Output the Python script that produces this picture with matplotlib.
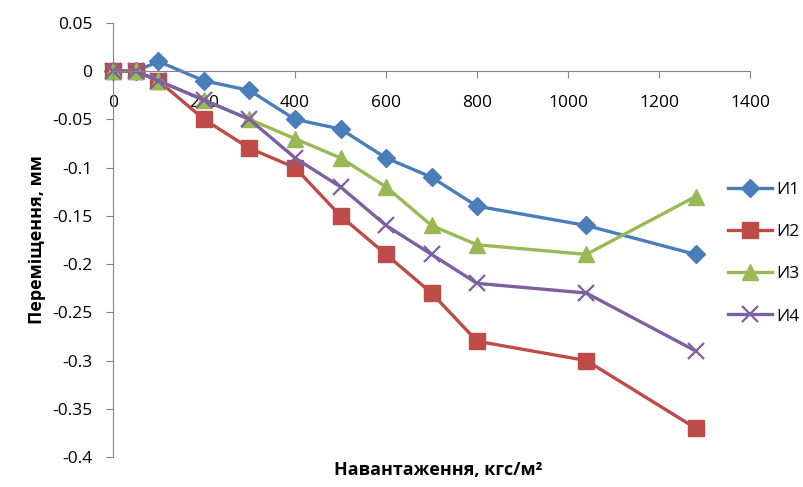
"""Displacement vs load for four specimens."""

import matplotlib
matplotlib.use("Agg")
import matplotlib.pyplot as plt

load = [0, 50, 100, 200, 300, 400, 500, 600, 700, 800, 1040, 1280]
i1 = [0, 0, 0.01, -0.01, -0.02, -0.05, -0.06, -0.09, -0.11, -0.14, -0.16, -0.19]
i2 = [0, 0, -0.01, -0.05, -0.08, -0.10, -0.15, -0.19, -0.23, -0.28, -0.30, -0.37]
i3 = [0, 0, -0.01, -0.03, -0.05, -0.07, -0.09, -0.12, -0.16, -0.18, -0.19, -0.13]
i4 = [0, 0, -0.01, -0.03, -0.05, -0.09, -0.12, -0.16, -0.19, -0.22, -0.23, -0.29]
names = ["И1", "И2", "И3", "И4"]

plt.rcParams["font.family"] = ["Open Sans", "DejaVu Sans"]

fig = plt.figure(figsize=(8.04, 4.87), dpi=100)
ax = fig.add_axes([0.1405, 0.0616, 0.7925, 0.8914])

styles = [
    dict(color="#4A7EBB", marker="D", markersize=9),
    dict(color="#BE4B48", marker="s", markersize=11),
    dict(color="#98B954", marker="^", markersize=12),
    dict(color="#7D60A0", marker="x", markersize=12, markeredgewidth=1.6),
]
for ys, name, st in zip([i1, i2, i3, i4], names, styles):
    ax.plot(load, ys, linewidth=2.4, label=name, clip_on=False, **st)

ax.set_xlim(0, 1400)
ax.set_ylim(-0.4, 0.05)
ax.set_xticks(range(0, 1401, 200))
yt = [0.05, 0, -0.05, -0.1, -0.15, -0.2, -0.25, -0.3, -0.35, -0.4]
ax.set_yticks(yt)
ax.set_yticklabels(["0.05", "0", "-0.05", "-0.1", "-0.15", "-0.2", "-0.25",
                    "-0.3", "-0.35", "-0.4"])

for s in ["top", "right"]:
    ax.spines[s].set_visible(False)
ax.spines["bottom"].set_position(("data", 0))
ax.spines["bottom"].set_color("#868686")
ax.spines["left"].set_color("#868686")
ax.tick_params(axis="both", colors="#868686", labelcolor="black",
               labelsize=12.5, length=5, direction="out")
ax.tick_params(axis="x", pad=12)
ax.tick_params(axis="y", pad=10)

ax.set_ylabel("Переміщення, мм", fontsize=13, fontweight="bold", labelpad=4)
fig.text(0.545, 0.035, "Навантаження, кгс/м²", fontsize=13,
         fontweight="bold", ha="center", va="center")

ax.legend(loc="upper left", bbox_to_anchor=(0.955, 0.65), frameon=False,
          fontsize=12.5, handlelength=2.5, handletextpad=0.25,
          labelspacing=1.5, borderaxespad=0)

fig.savefig("out.png", dpi=100)
